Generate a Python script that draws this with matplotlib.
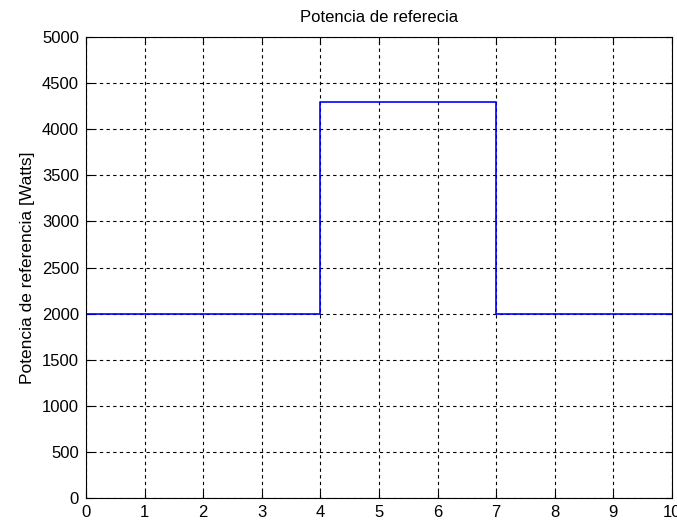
import numpy as np
import matplotlib.pyplot as plt

# step profile of the reference power
tiempo = [0, 4, 4, 7, 7, 10]
potencia = [2000, 2000, 4300, 4300, 2000, 2000]
x_ticks = list(range(0, 11))
y_ticks = list(range(0, 5001, 500))

plt.rcParams['font.family'] = ['Liberation Sans', 'DejaVu Sans']
plt.rcParams['font.size'] = 12

fig = plt.figure(figsize=(6.77, 5.24), dpi=100)
ax = fig.add_axes([0.127, 0.0496, 0.8656, 0.8798])

ax.plot(tiempo, potencia, color='#0000ff', linewidth=1.2)

ax.set_xlim(0, 10)
ax.set_ylim(0, 5000)
ax.set_xticks(x_ticks)
ax.set_yticks(y_ticks)
ax.grid(True, color='black', linestyle=(0, (3, 3)), linewidth=0.8)
ax.tick_params(direction='in', top=True, right=True, length=5, width=0.8, pad=5)
for s in ax.spines.values():
    s.set_linewidth(0.8)

ax.set_title('Potencia de referecia', fontsize=12, pad=11)
ax.set_ylabel('Potencia de referencia [Watts]', fontsize=12.5, labelpad=5)

fig.savefig('out.png', dpi=100)
